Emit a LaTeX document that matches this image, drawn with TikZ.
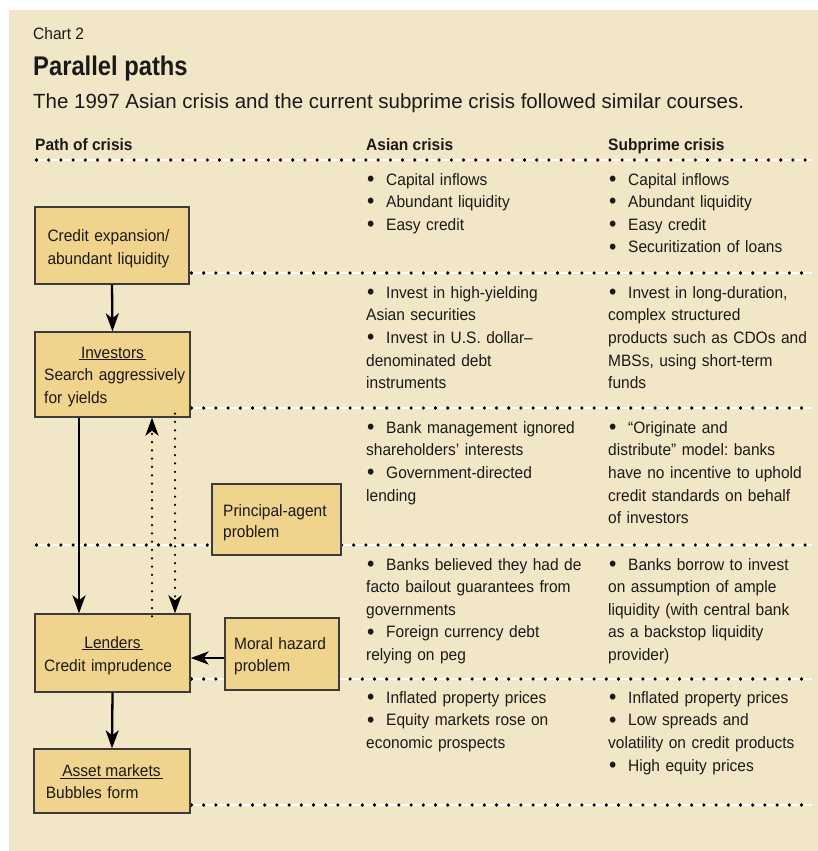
\documentclass[tikz,border=0pt]{standalone}
\usepackage{fontspec}
\usetikzlibrary{arrows.meta}
\setmainfont{Liberation Sans}
\newfontfamily\bodyfont[FakeStretch=0.94]{Liberation Sans}
\newfontfamily\headfont[FakeStretch=0.88]{Liberation Sans}
\newfontfamily\subfont{Liberation Sans}
\definecolor{bgbeige}{HTML}{F1E6C6}
\definecolor{boxfill}{HTML}{F0D38C}
\definecolor{boxline}{HTML}{3C3C3C}
\definecolor{ink}{HTML}{1A1A1A}
\frenchspacing
\newcommand\bul{\hspace*{1pt}\makebox[19pt][l]{\raisebox{-1.3pt}{\scalebox{1.35}{\textbullet}}}}
\newcommand\ttl[1]{\underline{\hspace{2pt}#1\hspace{2pt}}}
\begin{document}
\begin{tikzpicture}[x=1pt,y=-1pt,
  box/.style={draw=boxline, fill=boxfill, line width=1.3pt, inner sep=0pt},
  txt/.style={anchor=base west, inner sep=0pt, text=ink, text width=250pt, align=left,
    font=\bodyfont\fontsize{16.5}{22.6}\selectfont},
  boxtxt/.style={anchor=base west, inner sep=0pt, text=ink, text width=150pt, align=left,
    font=\bodyfont\fontsize{16.5}{22.4}\selectfont},
  boxttl/.style={anchor=base, inner sep=0pt, text=ink, font=\bodyfont\fontsize{16.5}{22.4}\selectfont},
  hdr/.style={anchor=base west, inner sep=0pt, text=ink, font=\bodyfont\bfseries\fontsize{16.5}{20}\selectfont},
  sepwhite/.style={white, line width=2.8pt},
  sepdots/.style={black, line width=3.6pt, dash pattern=on 0pt off 12.2pt, line cap=round},
  arr/.style={line width=2.3pt, -{Stealth[length=18pt,width=13pt,inset=5pt]}},
  dotarr/.style={line width=2.5pt, line cap=round, dash pattern=on 0pt off 8.3pt,
    -{Stealth[length=18pt,width=13pt,inset=5pt]}}
]
\useasboundingbox (0,0) rectangle (818,851);
\fill[white] (0,0) rectangle (818,851);
\fill[bgbeige] (9,10) rectangle (818,851);

% titles
\node[anchor=base west, inner sep=0pt, text=ink, font=\bodyfont\fontsize{16.5}{18}\selectfont] (chart) at (33,40) {Chart 2};
\node[anchor=base west, inner sep=0pt, text=ink, font=\headfont\bfseries\fontsize{27}{30}\selectfont] (title) at (33,75) {Parallel paths};
\node[anchor=base west, inner sep=0pt, text=ink, font=\subfont\fontsize{20.5}{24}\selectfont] (subtitle) at (33,108.5) {The 1997 Asian crisis and the current subprime crisis followed similar courses.};

% column headers
\node[hdr] (h1) at (35,150) {Path of crisis};
\node[hdr] (h2) at (366,150) {Asian crisis};
\node[hdr] (h3) at (608,150) {Subprime crisis};

% separators
\foreach \xa/\yy/\xb in {35/160/812, 190/273/812, 190/408/812, 35/545/812, 190/679/812, 190/805/812}{
  \draw[sepwhite] (\xa,\yy) -- (\xb,\yy);
  \draw[sepdots] (\xa+1.5,\yy) -- (\xb,\yy);
}

% boxes
\node[box, minimum width=154pt, minimum height=77pt] (credit) at (112,245.5) {};
\node[box, minimum width=155pt, minimum height=85pt] (investors) at (112.5,374.5) {};
\node[box, minimum width=129pt, minimum height=71pt] (principal) at (276.5,519.5) {};
\node[box, minimum width=155pt, minimum height=78pt] (lenders) at (112.5,653) {};
\node[box, minimum width=114pt, minimum height=72pt] (moral) at (282,654) {};
\node[box, minimum width=156pt, minimum height=64pt] (asset) at (112,781) {};

% box texts
\node[boxtxt] (tcredit) at (47.3,241.7) {Credit expansion/\\abundant liquidity};
\node[boxttl] (tinv1) at (112.5,358) {\ttl{Investors}};
\node[boxtxt] (tinv2) at (44,380.7) {Search aggressively\\for yields};
\node[boxtxt, font=\bodyfont\fontsize{16.5}{21}\selectfont] (tprin) at (223,516) {Principal-agent\\problem};
\node[boxttl] (tlen1) at (112.5,648) {\ttl{Lenders}};
\node[boxtxt] (tlen2) at (44,671) {Credit imprudence};
\node[boxtxt, font=\bodyfont\fontsize{16.5}{21.7}\selectfont] (tmoral) at (234,649.3) {Moral hazard\\problem};
\node[boxttl] (tass1) at (111.5,776.7) {\ttl{Asset markets}};
\node[boxtxt] (tass2) at (45.7,798) {Bubbles form};

% arrows
\coordinate (xa) at (79,0);
\coordinate (xup) at (152,0);
\coordinate (xdn) at (175,0);
\coordinate (ymh) at (0,658);
\draw[arr] (credit.south) -- (investors.north);
\draw[arr] (xa |- investors.south) -- (xa |- lenders.north);
\draw[dotarr] ([yshift=-3pt]xup |- lenders.north) -- (xup |- investors.south);
\draw[dotarr] ([yshift=4pt]xdn |- investors.south) -- (xdn |- lenders.north);
\draw[arr] (moral.west |- ymh) -- (lenders.east |- ymh);
\draw[arr] (lenders.south) -- (asset.north);

% row 1
\node[txt] (a1) at (366,185) {\bul Capital inflows\\\bul Abundant liquidity\\\bul Easy credit};
\node[txt] (s1) at (608,185) {\bul Capital inflows\\\bul Abundant liquidity\\\bul Easy credit\\\bul Securitization of loans};
% row 2
\node[txt] (a2) at (366,298.3) {\bul Invest in high-yielding\\Asian securities\\\bul Invest in U.S. dollar–\\denominated debt\\instruments};
\node[txt] (s2) at (608,298.3) {\bul Invest in long-duration,\\complex structured\\products such as CDOs and\\MBSs, using short-term\\funds};
% row 3
\node[txt] (a3) at (366,433.3) {\bul Bank management ignored\\shareholders’ interests\\\bul Government-directed\\lending};
\node[txt] (s3) at (608,433.3) {\bul “Originate and\\distribute” model: banks\\have no incentive to uphold\\credit standards on behalf\\of investors};
% row 4
\node[txt] (a4) at (366,570) {\bul Banks believed they had de\\facto bailout guarantees from\\governments\\\bul Foreign currency debt\\relying on peg};
\node[txt] (s4) at (608,570) {\bul Banks borrow to invest\\on assumption of ample\\liquidity (with central bank\\as a backstop liquidity\\provider)};
% row 5
\node[txt] (a5) at (366,703.3) {\bul Inflated property prices\\\bul Equity markets rose on\\economic prospects};
\node[txt] (s5) at (608,703.3) {\bul Inflated property prices\\\bul Low spreads and\\volatility on credit products\\\bul High equity prices};
\end{tikzpicture}
\end{document}
